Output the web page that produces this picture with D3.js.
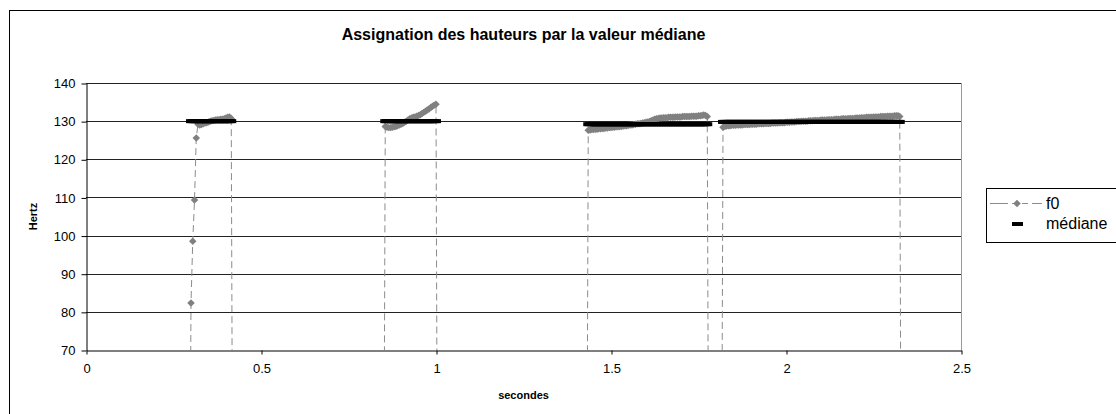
<!DOCTYPE html>
<html>
<head>
<meta charset="utf-8">
<script src="https://cdn.jsdelivr.net/npm/d3@7"></script>
<style>
  body { margin: 0; background: #fff; }
  text { font-family: "Liberation Sans", Arial, sans-serif; }
</style>
</head>
<body>
<div class="canva"></div>
<script>
//frame step of the pitch track (s)
const FRAME = 0.005;

//start time of each voiced segment (s)
const segStarts = [0.300, 0.855, 1.435, 1.820];

//f0 values of each voiced segment (Hz)
const f0Seg1 = [82.3, 98.5, 109.3, 125.6, 129.2, 129.0, 129.1, 129.3, 129.5, 129.6,
                129.8, 130.0, 130.1, 130.2, 130.3, 130.4, 130.4, 130.5, 130.5, 130.6,
                130.8, 131.0, 131.1, 130.7];
const f0Seg2 = [128.6, 128.4, 128.3, 128.3, 128.4, 128.5, 128.6, 128.8, 129.0, 129.2,
                129.4, 129.7, 130.0, 130.3, 130.6, 130.8, 131.0, 131.1, 131.3, 131.5,
                131.7, 132.0, 132.3, 132.6, 132.9, 133.2, 133.6, 133.9, 134.2, 134.4];
const f0Seg3 = [127.6, 127.7, 127.8, 127.8, 127.9, 127.9, 128.0, 128.0, 128.1, 128.1,
                128.2, 128.2, 128.3, 128.3, 128.4, 128.4, 128.5, 128.5, 128.6, 128.6,
                128.7, 128.8, 128.8, 128.9, 129.0, 129.0, 129.1, 129.2, 129.3, 129.3,
                129.4, 129.5, 129.6, 129.7, 129.8, 129.9, 130.1, 130.3, 130.5, 130.6,
                130.7, 130.8, 130.8, 130.9, 130.9, 130.9, 131.0, 131.0, 131.0, 131.0,
                131.1, 131.1, 131.1, 131.1, 131.2, 131.2, 131.2, 131.2, 131.2, 131.3,
                131.3, 131.3, 131.3, 131.4, 131.4, 131.5, 131.6, 131.5, 131.2];
const f0Seg4 = [128.4, 128.6, 128.7, 128.8, 128.8, 128.9, 128.9, 128.9, 129.0, 129.0,
                129.0, 129.0, 129.1, 129.1, 129.1, 129.1, 129.2, 129.2, 129.2, 129.2,
                129.3, 129.3, 129.3, 129.3, 129.4, 129.4, 129.4, 129.4, 129.5, 129.5,
                129.5, 129.5, 129.6, 129.6, 129.6, 129.6, 129.7, 129.7, 129.7, 129.8,
                129.8, 129.8, 129.9, 129.9, 129.9, 130.0, 130.0, 130.0, 130.0, 130.1,
                130.1, 130.1, 130.2, 130.2, 130.2, 130.2, 130.3, 130.3, 130.3, 130.3,
                130.4, 130.4, 130.4, 130.4, 130.5, 130.5, 130.5, 130.5, 130.6, 130.6,
                130.6, 130.6, 130.7, 130.7, 130.7, 130.7, 130.8, 130.8, 130.8, 130.9,
                130.9, 130.9, 131.0, 131.0, 131.0, 131.0, 131.1, 131.1, 131.1, 131.1,
                131.2, 131.2, 131.2, 131.2, 131.3, 131.3, 131.3, 131.3, 131.4, 131.4,
                131.4, 131.2];

//median of each segment (Hz)
const medianValues = [130.0, 130.0, 129.2, 129.8];

//axis ticks
const xTicks = [0, 0.5, 1, 1.5, 2, 2.5];
const yTicks = [70, 80, 90, 100, 110, 120, 130, 140];

const f0Segs = [f0Seg1, f0Seg2, f0Seg3, f0Seg4];

//svg
const svg = d3.select('.canva').append('svg')
              .attr('width', 1116)
              .attr('height', 414);

svg.append('rect')
   .attr('width', 1116).attr('height', 414)
   .attr('fill', '#fff');

//outer frame
svg.append('rect')
   .attr('x', 9.5).attr('y', 10.5)
   .attr('width', 1300).attr('height', 600)
   .attr('fill', 'none').attr('stroke', '#000');

//plot area
const plot = {left: 86, right: 961, top: 83, bottom: 350};

const x = d3.scaleLinear().domain([0, 2.5]).range([plot.left, plot.right]);
const y = d3.scaleLinear().domain([70, 140]).range([plot.bottom, plot.top]);

//gridlines
svg.append('g')
   .selectAll('line')
   .data(yTicks.filter(d => d > 70))
   .enter().append('line')
      .attr('x1', plot.left).attr('x2', plot.right)
      .attr('y1', d => Math.round(y(d)) + 0.5)
      .attr('y2', d => Math.round(y(d)) + 0.5)
      .attr('stroke', '#222');

//right border
svg.append('line')
   .attr('x1', plot.right + 0.5).attr('x2', plot.right + 0.5)
   .attr('y1', plot.top).attr('y2', plot.bottom)
   .attr('stroke', '#999');

//axes
const yAxis = d3.axisLeft(y).tickValues(yTicks).tickSize(5).tickPadding(6).tickSizeOuter(0);
const xAxis = d3.axisBottom(x).tickValues(xTicks).tickSize(4).tickPadding(9).tickSizeOuter(0)
                .tickFormat(d => String(d));

const yAxisGroup = svg.append('g')
   .attr('transform', `translate(${plot.left + 0.5}, 0.5)`)
   .call(yAxis);
const xAxisGroup = svg.append('g')
   .attr('transform', `translate(0.5, ${Math.round(plot.bottom) + 0.5})`)
   .call(xAxis);

[yAxisGroup, xAxisGroup].forEach(g => {
  g.select('.domain').attr('stroke', '#000');
  g.selectAll('.tick line').attr('stroke', '#000');
  g.selectAll('.tick text')
   .attr('fill', '#000')
   .style('font-size', '13px')
   .style('font-family', '"Liberation Sans", Arial, sans-serif');
});

//clip for data
svg.append('clipPath').attr('id', 'plotclip')
   .append('rect')
   .attr('x', plot.left).attr('y', plot.top)
   .attr('width', plot.right - plot.left).attr('height', plot.bottom - plot.top);

const data = svg.append('g').attr('clip-path', 'url(#plotclip)');

//f0 line: unvoiced frames are 0 Hz, below the axis
const f0Points = [];
const voiced = [];
f0Segs.forEach((seg, s) => {
  const t0 = segStarts[s];
  f0Points.push({t: t0 - FRAME, v: 0});
  seg.forEach((v, i) => {
    f0Points.push({t: t0 + i * FRAME, v: v});
    voiced.push({t: t0 + i * FRAME, v: v});
  });
  f0Points.push({t: t0 + seg.length * FRAME, v: 0});
});

const line = d3.line().x(d => x(d.t)).y(d => y(d.v));

data.append('path')
    .datum(f0Points)
    .attr('d', line)
    .attr('fill', 'none')
    .attr('stroke', '#8c8c8c')
    .attr('stroke-width', 1)
    .attr('stroke-dasharray', '7,4');

const diamond = d3.symbol().type(d3.symbolSquare).size(28);

data.append('g')
    .selectAll('path')
    .data(voiced)
    .enter().append('path')
      .attr('d', diamond)
      .attr('transform', d => `translate(${x(d.t)}, ${y(d.v)}) rotate(45)`)
      .attr('fill', '#808080');

//median markers
const medPoints = [];
f0Segs.forEach((seg, s) => {
  seg.forEach((v, i) => medPoints.push({t: segStarts[s] + i * FRAME, v: medianValues[s]}));
});

data.append('g')
    .selectAll('rect')
    .data(medPoints)
    .enter().append('rect')
      .attr('x', d => x(d.t) - 5)
      .attr('y', d => y(d.v) - 2)
      .attr('width', 10)
      .attr('height', 4)
      .attr('fill', '#000');

//title
svg.append('text')
   .attr('x', (plot.left + plot.right) / 2).attr('y', 40)
   .attr('text-anchor', 'middle')
   .style('font-size', '16px').style('font-weight', 'bold')
   .text('Assignation des hauteurs par la valeur médiane');

//axis titles
svg.append('text')
   .attr('x', (plot.left + plot.right) / 2).attr('y', 399)
   .attr('text-anchor', 'middle')
   .style('font-size', '11px').style('font-weight', 'bold')
   .text('secondes');

svg.append('text')
   .attr('transform', `translate(37, ${(plot.top + plot.bottom) / 2}) rotate(-90)`)
   .attr('text-anchor', 'middle')
   .style('font-size', '11px').style('font-weight', 'bold')
   .text('Hertz');

//legend
const legend = svg.append('g');
legend.append('rect')
      .attr('x', 986.5).attr('y', 188.5)
      .attr('width', 200).attr('height', 54)
      .attr('fill', '#fff').attr('stroke', '#000');

legend.append('line')
      .attr('x1', 990).attr('x2', 1042)
      .attr('y1', 203.5).attr('y2', 203.5)
      .attr('stroke', '#8c8c8c')
      .attr('stroke-dasharray', '18,4,6,4,6,4');
legend.append('path')
      .attr('d', diamond)
      .attr('transform', 'translate(1017, 203.5) rotate(45)')
      .attr('fill', '#808080');
legend.append('text')
      .attr('x', 1046).attr('y', 209)
      .style('font-size', '16px')
      .text('f0');

legend.append('rect')
      .attr('x', 1012).attr('y', 222)
      .attr('width', 11).attr('height', 4)
      .attr('fill', '#000');
legend.append('text')
      .attr('x', 1046).attr('y', 229)
      .style('font-size', '16px')
      .text('médiane');
</script>
</body>
</html>
